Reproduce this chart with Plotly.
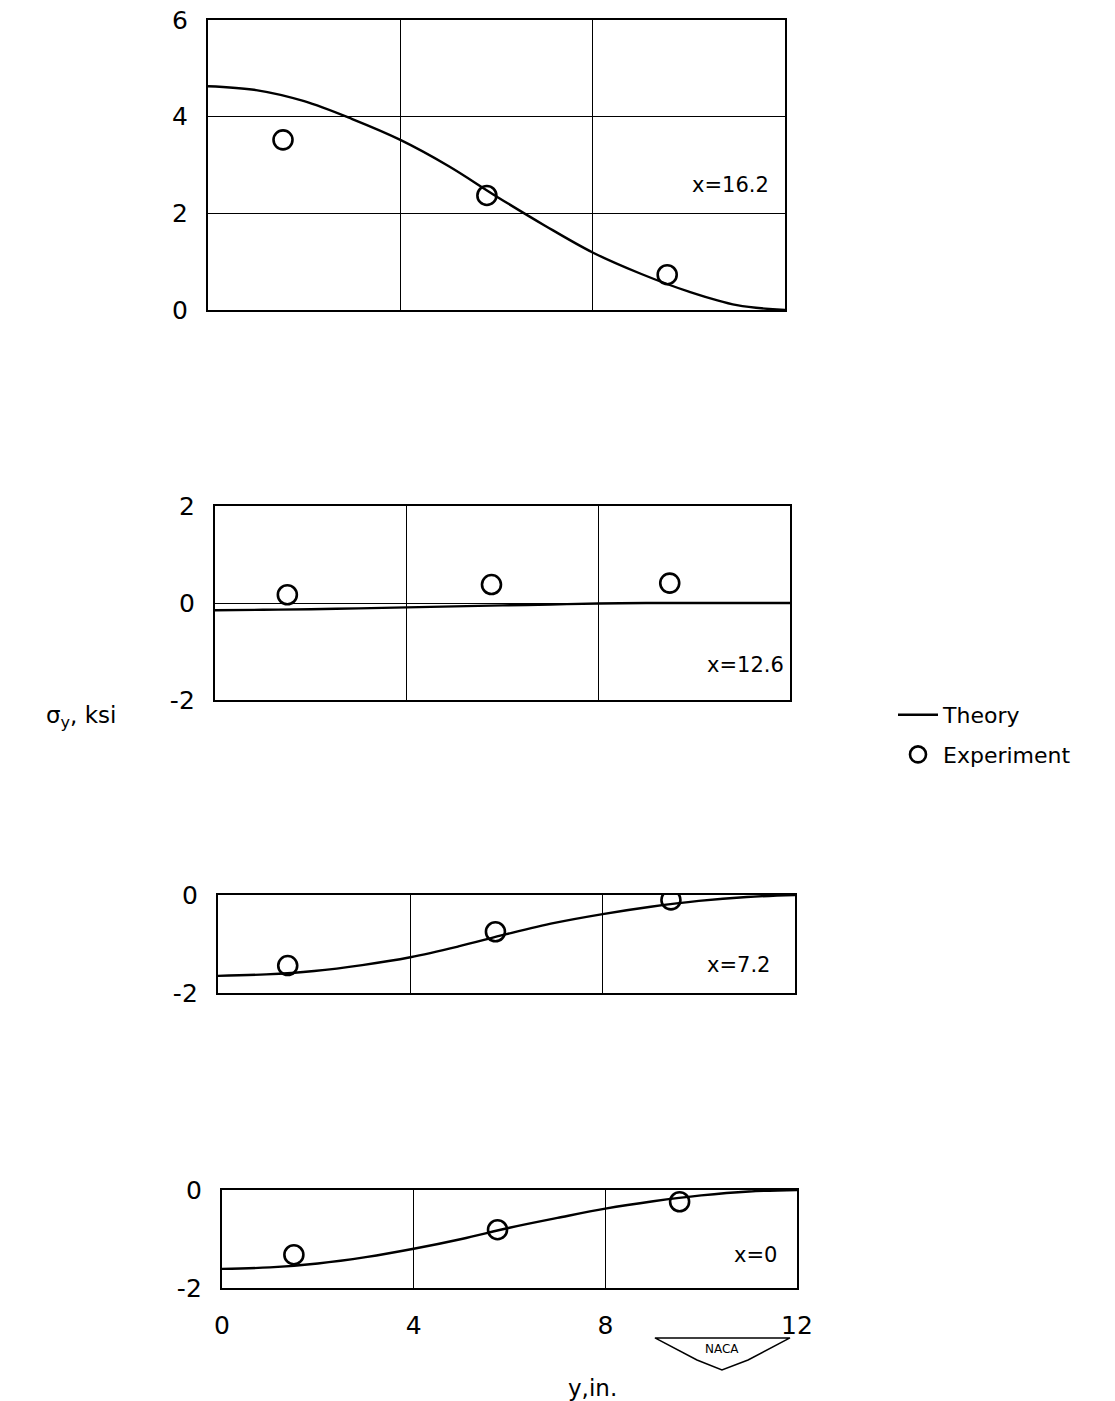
import plotly.graph_objects as go

# ---------------- data ----------------
theory_x = [0, 1, 2, 3, 4, 5, 6, 7, 8, 9, 10, 11, 12]
theory_162 = [4.63, 4.55, 4.32, 3.95, 3.52, 2.98, 2.35, 1.75, 1.19, 0.75, 0.38, 0.10, 0.0]
theory_126 = [-0.15, -0.14, -0.13, -0.11, -0.09, -0.07, -0.05, -0.03, -0.01, 0.0, 0.0, 0.0, 0.0]
theory_72 = [-1.65, -1.62, -1.55, -1.43, -1.27, -1.05, -0.80, -0.57, -0.39, -0.24, -0.12, -0.04, 0.0]
theory_0 = [-1.61, -1.58, -1.50, -1.37, -1.20, -1.00, -0.77, -0.57, -0.38, -0.23, -0.11, -0.03, 0.0]

exp_x_162 = [1.56, 5.8, 9.55]
exp_y_162 = [3.52, 2.37, 0.73]
exp_x_126 = [1.51, 5.77, 9.49]
exp_y_126 = [0.17, 0.38, 0.41]
exp_x_72 = [1.45, 5.77, 9.42]
exp_y_72 = [-1.44, -0.75, -0.10]
exp_x_0 = [1.5, 5.75, 9.55]
exp_y_0 = [-1.32, -0.81, -0.24]

panel_labels = ["x=16.2", "x=12.6", "x=7.2", "x=0"]
y_ranges = [[0, 6], [-2, 2], [-2, 0], [-2, 0]]
y_ticks = [[0, 2, 4, 6], [-2, 0, 2], [-2, 0], [-2, 0]]
y_ticktext = [["0", "2", "4", "6"], ["-2", "0", "2"], ["-2", "0"], ["-2", "0"]]
x_ticks = [0, 4, 8, 12]
x_ticktext = ["0", "4", "8", "12"]

W, H = 1115, 1401
# pixel boxes (left, right, top, bottom)
boxes = [(208, 785, 20, 310), (215, 790, 506, 700), (218, 795, 895, 993), (222, 797, 1190, 1288)]

FONT = "DejaVu Sans"
fig = go.Figure()

theories = [theory_162, theory_126, theory_72, theory_0]
exps = [(exp_x_162, exp_y_162), (exp_x_126, exp_y_126), (exp_x_72, exp_y_72), (exp_x_0, exp_y_0)]

for i in range(4):
    n = "" if i == 0 else str(i + 1)
    fig.add_trace(go.Scatter(x=theory_x, y=theories[i], mode="lines",
                             line=dict(color="black", width=2.4, shape="spline", smoothing=1.0),
                             name="Theory", legendgroup="theory", showlegend=(i == 0),
                             xaxis="x" + n, yaxis="y" + n))
    fig.add_trace(go.Scatter(x=exps[i][0], y=exps[i][1], mode="markers",
                             marker=dict(symbol="circle-open", size=19, color="black",
                                         line=dict(width=2.6, color="black")),
                             name="Experiment", legendgroup="exp", showlegend=(i == 0),
                             xaxis="x" + n, yaxis="y" + n))

layout = dict(
    width=W, height=H, paper_bgcolor="white", plot_bgcolor="white",
    margin=dict(l=0, r=0, t=0, b=0, autoexpand=False),
    font=dict(family=FONT, size=24, color="black"),
    showlegend=True,
    legend=dict(x=893 / W, y=1 - 694 / H, xanchor="left", yanchor="top", bgcolor="rgba(0,0,0,0)",
                font=dict(size=22, family=FONT), traceorder="grouped", tracegroupgap=8, itemwidth=40),
)

for i, (l, r, t, b) in enumerate(boxes):
    n = "" if i == 0 else str(i + 1)
    layout["xaxis" + n] = dict(domain=[l / W, r / W], anchor="y" + n, range=[0, 12],
                               tickvals=x_ticks, ticktext=x_ticktext,
                               showticklabels=(i == 3), showgrid=True, gridcolor="black", gridwidth=1.2,
                               showline=True, mirror=True, linecolor="black", linewidth=2.4, zeroline=False,
                               ticks="", ticklabelstandoff=14, tickfont=dict(size=25), automargin=False)
    layout["yaxis" + n] = dict(domain=[1 - b / H, 1 - t / H], anchor="x" + n, range=y_ranges[i],
                               tickvals=y_ticks[i], ticktext=y_ticktext[i],
                               showgrid=True, gridcolor="black", gridwidth=1.2, showline=True, mirror=True,
                               linecolor="black", linewidth=2.4, zeroline=False, ticks="", ticklabelstandoff=13,
                               tickfont=dict(size=25), automargin=False)

fig.update_layout(**layout)

label_pos = [(730, 185), (745, 665), (738, 965), (755, 1255)]
for (px, py), txt in zip(label_pos, panel_labels):
    fig.add_annotation(x=px / W, y=1 - py / H, xref="paper", yref="paper", text=txt, showarrow=False,
                       xanchor="center", yanchor="middle", font=dict(size=21, family=FONT))

fig.add_annotation(x=81 / W, y=1 - 717 / H, xref="paper", yref="paper", text="σ<sub>y</sub>, ksi", showarrow=False,
                   xanchor="center", yanchor="middle", font=dict(size=23, family=FONT))
fig.add_annotation(x=592 / W, y=1 - 1388 / H, xref="paper", yref="paper", text="y,in.", showarrow=False,
                   xanchor="center", yanchor="middle", font=dict(size=23, family=FONT))
fig.add_annotation(x=722 / W, y=1 - 1349 / H, xref="paper", yref="paper", text="NACA", showarrow=False,
                   xanchor="center", yanchor="middle", font=dict(size=12, family=FONT))
fig.add_shape(type="path", xref="paper", yref="paper",
              path="M {:.4f} {:.4f} L {:.4f} {:.4f} L {:.4f} {:.4f} L {:.4f} {:.4f} L {:.4f} {:.4f} Z".format(
                  655 / W, 1 - 1338 / H, 790 / W, 1 - 1338 / H, 748 / W, 1 - 1360 / H,
                  722 / W, 1 - 1370 / H, 697 / W, 1 - 1360 / H),
              line=dict(color="black", width=1.5))

fig.write_html("out.html", config={"displayModeBar": False},
               post_script="document.body.style.margin='0px';")
